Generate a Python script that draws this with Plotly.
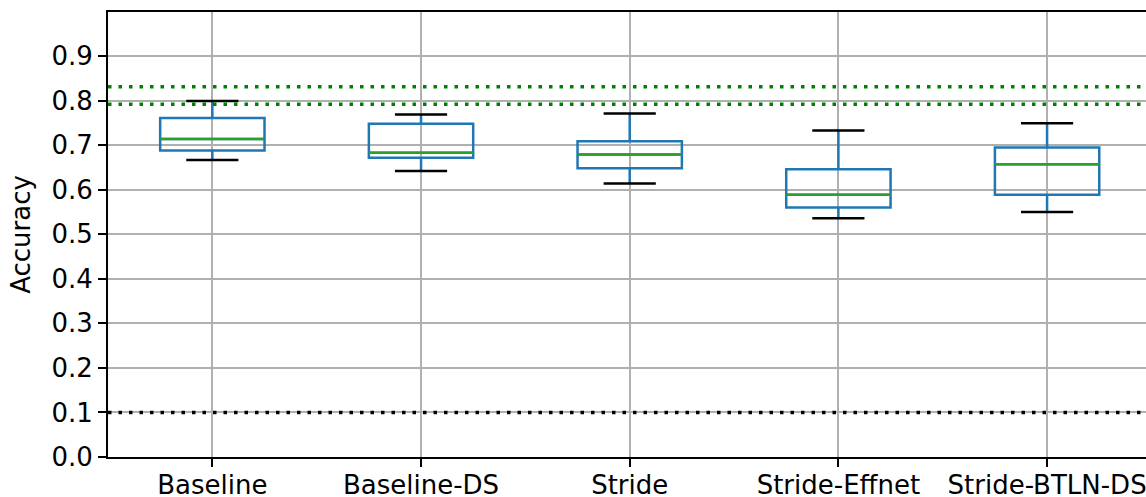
import plotly.graph_objects as go

# Model variants and their accuracy distributions (box statistics)
models = ["Baseline", "Baseline-DS", "Stride", "Stride-Effnet", "Stride-BTLN-DS"]
lower_whisker = [0.667, 0.642, 0.614, 0.536, 0.550]
q1 = [0.688, 0.672, 0.648, 0.560, 0.589]
median = [0.714, 0.683, 0.679, 0.589, 0.657]
q3 = [0.761, 0.748, 0.709, 0.646, 0.695]
upper_whisker = [0.799, 0.769, 0.771, 0.733, 0.749]

# Reference accuracy levels
ref_green = [0.831, 0.792]
ref_chance = 0.1

y_ticks = [0.0, 0.1, 0.2, 0.3, 0.4, 0.5, 0.6, 0.7, 0.8, 0.9]

positions = list(range(1, len(models) + 1))
box_w = 0.5
cap_w = 0.25

BLUE = "#1f77b4"
MED = "#2ca02c"
GRID = "#b0b0b0"
FONT = "DejaVu Sans"
TEXT_FONT = dict(family=FONT, size=26, color="black")

fig = go.Figure()

fig.add_trace(go.Box(
    x=positions, q1=q1, median=median, q3=q3,
    lowerfence=lower_whisker, upperfence=upper_whisker,
    width=box_w, whiskerwidth=0, boxpoints=False,
    line=dict(color=BLUE, width=2.5),
    fillcolor="rgba(0,0,0,0)", showlegend=False, hoverinfo="skip",
))

# whisker caps
cap_x, cap_y = [], []
for p, lo, hi in zip(positions, lower_whisker, upper_whisker):
    cap_x += [p - cap_w / 2, p + cap_w / 2, None, p - cap_w / 2, p + cap_w / 2, None]
    cap_y += [lo, lo, None, hi, hi, None]
fig.add_trace(go.Scatter(x=cap_x, y=cap_y, mode="lines",
                         line=dict(color="black", width=2.5),
                         showlegend=False, hoverinfo="skip"))

# medians
med_x, med_y = [], []
for p, m in zip(positions, median):
    med_x += [p - box_w / 2, p + box_w / 2, None]
    med_y += [m, m, None]
fig.add_trace(go.Scatter(x=med_x, y=med_y, mode="lines",
                         line=dict(color=MED, width=2.5),
                         showlegend=False, hoverinfo="skip"))

for yv in ref_green:
    fig.add_shape(type="line", xref="paper", x0=0, x1=1, yref="y", y0=yv, y1=yv,
                  line=dict(color="green", width=3.5, dash="3.5px,7px"))
fig.add_shape(type="line", xref="paper", x0=0, x1=1, yref="y", y0=ref_chance, y1=ref_chance,
              line=dict(color="black", width=3.5, dash="3.5px,7px"))

fig.update_layout(
    width=1146, height=497,
    margin=dict(l=108, r=0, t=12, b=40),
    plot_bgcolor="white", paper_bgcolor="white",
    font=dict(family=FONT, size=26, color="black"),
)
fig.update_xaxes(
    range=[0.5, 5.474], tickvals=positions, ticktext=models,
    tickfont=TEXT_FONT, automargin=False, ticklabeloverflow="allow",
    ticklabelstandoff=-4,
    showgrid=True, gridcolor=GRID, gridwidth=2,
    ticks="outside", ticklen=8, tickwidth=2, tickcolor="black",
    showline=True, linecolor="black", linewidth=2, mirror=True,
    zeroline=False,
)
fig.update_yaxes(
    range=[0, 0.999], tickvals=y_ticks, ticktext=[f"{v:.1f}" for v in y_ticks],
    tickfont=TEXT_FONT, automargin=False,
    showgrid=True, gridcolor=GRID, gridwidth=2,
    ticks="outside", ticklen=8, tickwidth=2, tickcolor="black",
    showline=True, linecolor="black", linewidth=2,
    zeroline=False,
    title=dict(text="Accuracy", standoff=13, font=TEXT_FONT),
)

fig.write_html("out.html")
